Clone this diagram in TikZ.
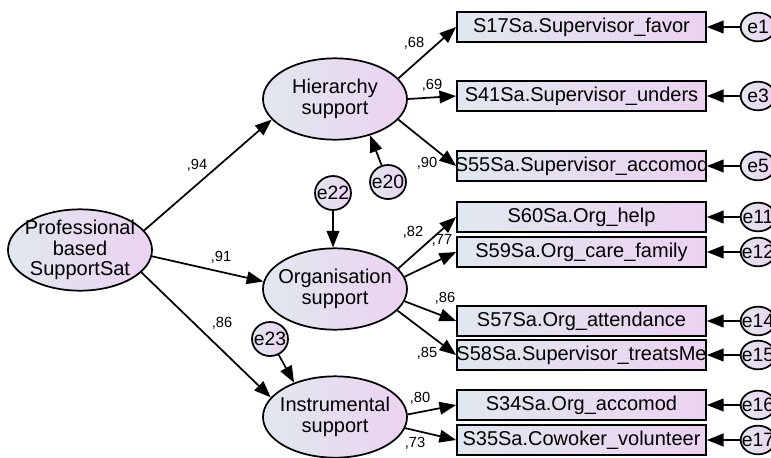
\documentclass[tikz,border=0pt]{standalone}
\usepackage{fontspec}
\setmainfont{Liberation Sans}
\usetikzlibrary{arrows.meta,shapes.geometric}
\definecolor{bl}{RGB}{224,232,238}
\definecolor{pu}{RGB}{236,210,242}
\newcommand{\fixw}[1]{\makebox[0pt][c]{#1}}
\begin{document}
\begin{tikzpicture}[x=0.75pt,y=-0.75pt,
  lat/.style={ellipse, draw, line width=1.3pt, left color=bl, right color=pu,
    minimum width=108pt, minimum height=61pt, inner sep=0pt},
  lattext/.style={align=center, font=\fontsize{15}{15.5}\selectfont, inner sep=0pt},
  obs/.style={rectangle, draw, line width=1.3pt, left color=bl, right color=pu,
    minimum width=186.75pt, minimum height=22.5pt, inner sep=0pt,
    font=\fontsize{15}{16}\selectfont},
  err/.style={ellipse, draw, line width=1.3pt, left color=bl, right color=pu,
    minimum width=27pt, minimum height=25.5pt, inner sep=0pt,
    font=\fontsize{14.5}{15}\selectfont},
  errr/.style={err, minimum width=26pt, minimum height=21.5pt},
  coef/.style={font=\fontsize{11}{12}\selectfont, inner sep=0pt},
  arr/.style={-{Triangle[length=12.5pt,width=9.5pt]}, line width=1.3pt}]
\useasboundingbox (0,0) rectangle (771,457);

% latent variables
\node[lat] (prof) at (80,250) {};
\node[lattext] (proft) at (prof) {Professional\\based\\SupportSat};
\node[lat] (hier) at (335,99) {};
\node[lattext] (hiert) at (hier) {Hierarchy\\support};
\node[lat] (org) at (335,289) {};
\node[lattext] (orgt) at (org) {Organisation\\support};
\node[lat] (ins) at (335,417) {};
\node[lattext] (inst) at (ins) {Instrumental\\support};

% disturbances
\node[err] (e20) at (388,182) {\fixw{e20}};
\node[err] (e22) at (333,193) {\fixw{e22}};
\node[err] (e23) at (270,339) {\fixw{e23}};

% observed
\node[obs] (s17) at (581.5,27) {\fixw{S17Sa.Supervisor\_favor}};
\node[obs] (s41) at (581.5,96) {\fixw{S41Sa.Supervisor\_unders}};
\node[obs] (s55) at (581.5,166) {\fixw{S55Sa.Supervisor\_accomod}};
\node[obs] (s60) at (581.5,217) {\fixw{S60Sa.Org\_help}};
\node[obs] (s59) at (581.5,252) {\fixw{S59Sa.Org\_care\_family}};
\node[obs] (s57) at (581.5,321) {\fixw{S57Sa.Org\_attendance}};
\node[obs] (s58) at (581.5,355) {\fixw{S58Sa.Supervisor\_treatsMe}};
\node[obs] (s34) at (581.5,405) {\fixw{S34Sa.Org\_accomod}};
\node[obs] (s35) at (581.5,440) {\fixw{S35Sa.Cowoker\_volunteer}};

% errors
\node[errr] (e1) at (758,27) {\fixw{e1}};
\node[errr] (e3) at (758,96) {\fixw{e3}};
\node[errr] (e5) at (758,166) {\fixw{e5}};
\node[errr] (e11) at (758,217) {\fixw{e11}};
\node[errr] (e12) at (758,252) {\fixw{e12}};
\node[errr] (e14) at (758,321) {\fixw{e14}};
\node[errr] (e15) at (758,355) {\fixw{e15}};
\node[errr] (e16) at (758,405) {\fixw{e16}};
\node[errr] (e17) at (758,440) {\fixw{e17}};

% structural paths
\draw[arr] (prof.17) -- (hier.-162);
\draw[arr] (prof.-5) -- (org.174);
\draw[arr] (prof.-20) -- (ins.163);
\draw[arr] (e20) -- (hier.-46);
\draw[arr] (e22) -- (e22 |- org.north);
\draw[arr] (e23) -- (ins.140);

% loadings
\draw[arr] (hier.18) -- (s17.west);
\draw[arr] (hier.0) -- (s41.west);
\draw[arr] (hier.-18) -- (s55.west);
\draw[arr] (org.18) -- (s60.west);
\draw[arr] (org.10) -- (s59.west);
\draw[arr] (org.-10) -- (s57.west);
\draw[arr] (org.-19) -- (s58.west);
\draw[arr] (ins.2) -- (s34.west);
\draw[arr] (ins.-9) -- (s35.west);

% error paths
\foreach \e/\s in {e1/s17,e3/s41,e5/s55,e11/s60,e12/s59,e14/s57,e15/s58,e16/s34,e17/s35}
  \draw[arr] (\e) -- (\s.east);

% coefficients
\node[coef] (c94) at (197,165) {,94};
\node[coef] (c91) at (221,257) {,91};
\node[coef] (c86a) at (222,323) {,86};
\node[coef] (c68) at (414,43) {,68};
\node[coef] (c69) at (432,85) {,69};
\node[coef] (c90) at (427,163) {,90};
\node[coef] (c82) at (413,232) {,82};
\node[coef] (c77) at (442,240) {,77};
\node[coef] (c86b) at (445,298) {,86};
\node[coef] (c85) at (427,353) {,85};
\node[coef] (c80) at (420,398) {,80};
\node[coef] (c73) at (415,443) {,73};
\end{tikzpicture}
\end{document}
